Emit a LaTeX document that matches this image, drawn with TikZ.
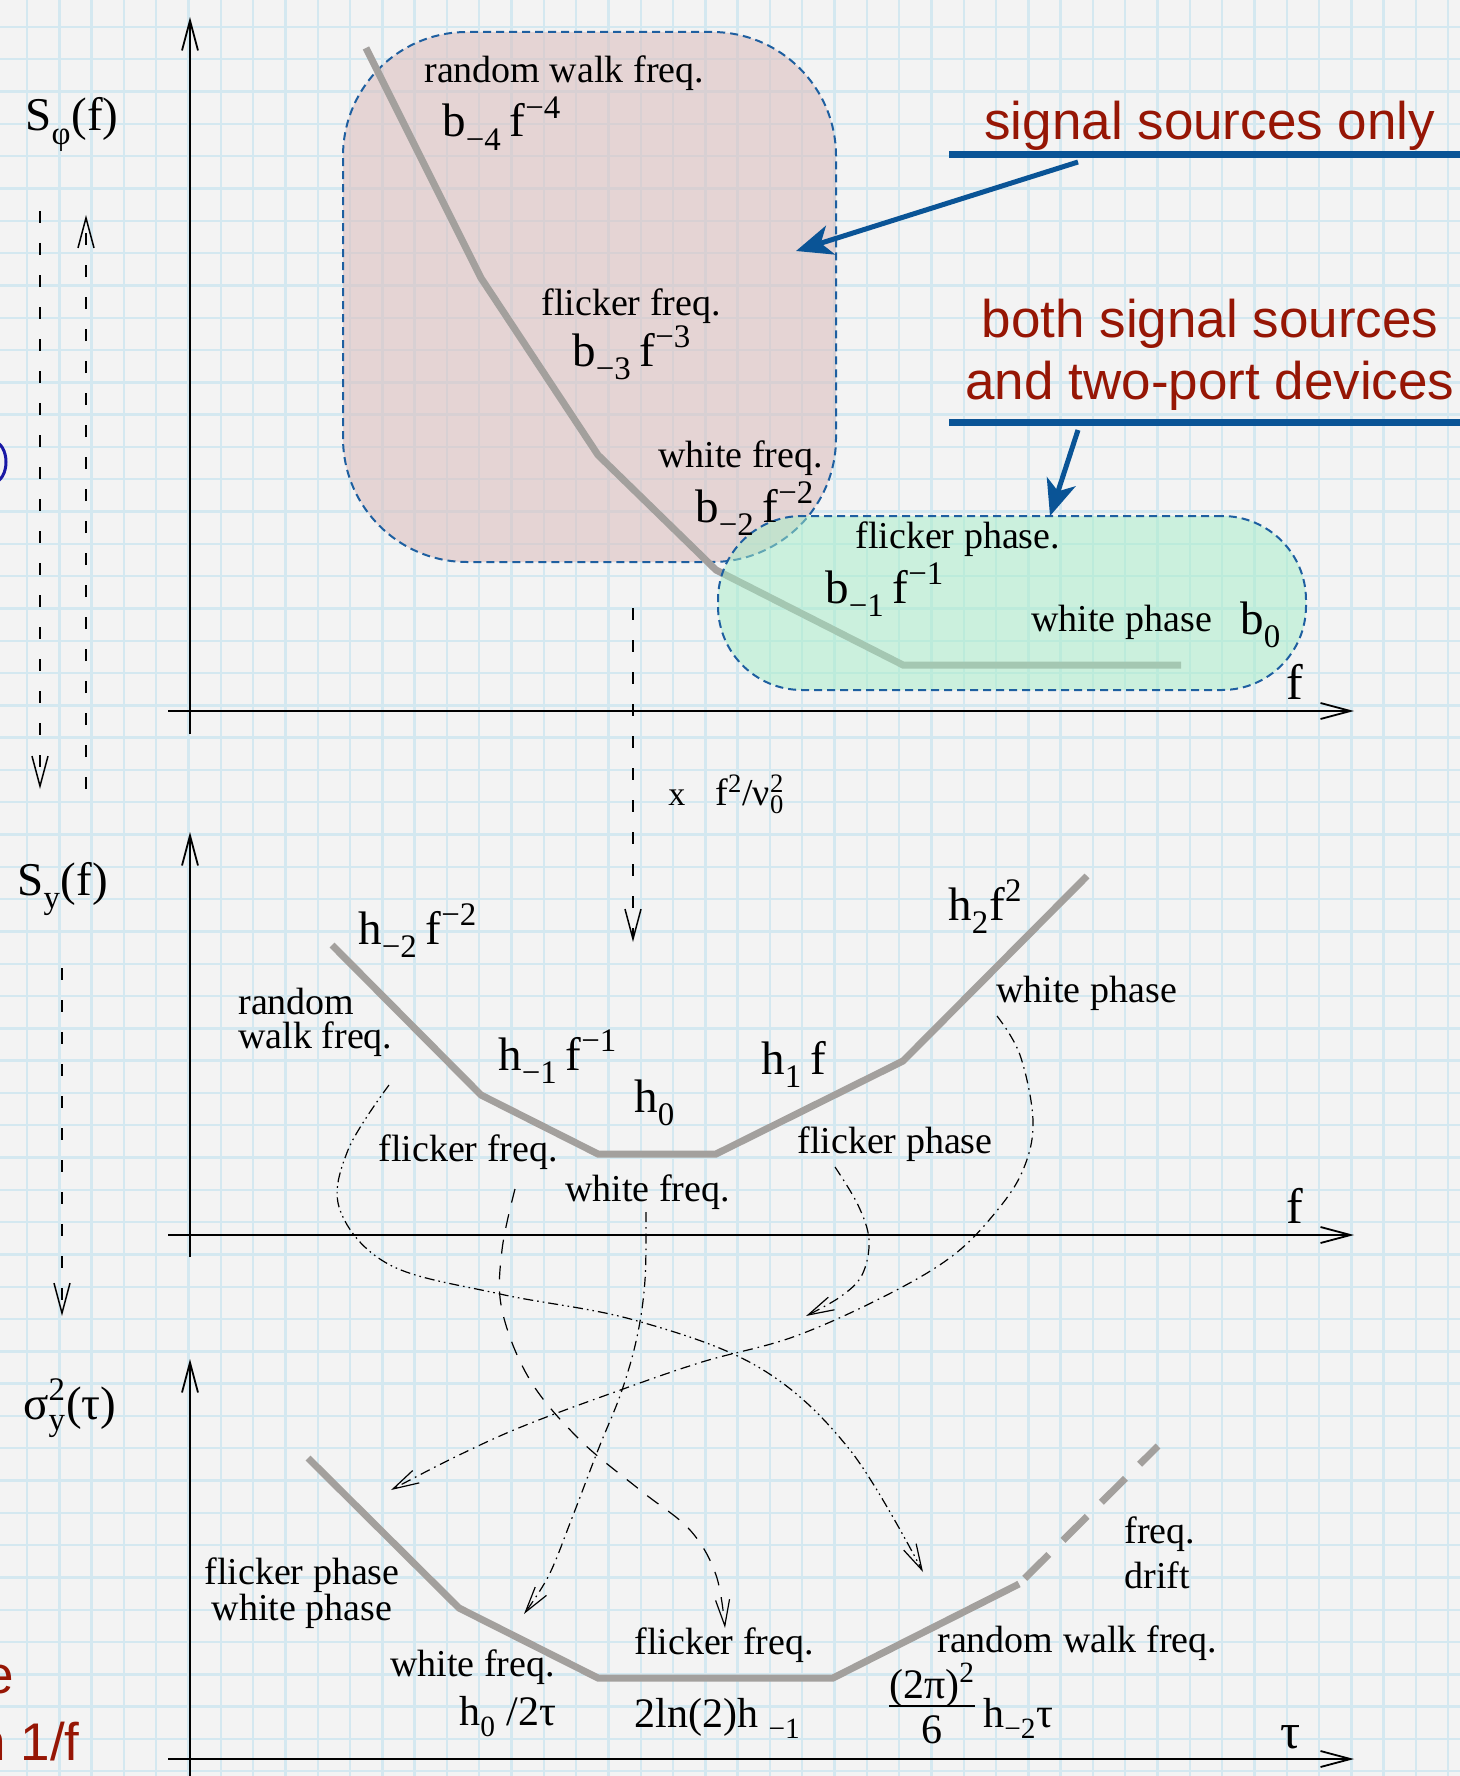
\documentclass[tikz,border=0pt]{standalone}
\usepackage{fontspec}
\setmainfont{Liberation Serif}
\newfontfamily\notefont{Liberation Sans}
\usetikzlibrary{arrows.meta}

\definecolor{paper}{RGB}{243,243,243}
\definecolor{gridblue}{RGB}{212,232,240}
\definecolor{pinkbox}{RGB}{220,192,192}
\definecolor{greenbox}{RGB}{165,238,200}
\definecolor{boxedge}{RGB}{30,95,160}
\definecolor{calloutblue}{RGB}{10,84,150}
\definecolor{notered}{RGB}{150,22,5}
\definecolor{slopegrey}{RGB}{163,160,157}
\definecolor{navyedge}{RGB}{25,25,165}

\newcommand\ssub[1]{\raisebox{-0.12em}{\textsubscript{#1}}}
\newcommand\ssup[1]{\textsuperscript{#1}}
\newcommand\supsub[2]{\rlap{\textsuperscript{#1}}\raisebox{-0.08em}{\textsubscript{#2}}}

\tikzset{
  gridline/.style={gridblue, line width=1.2pt},
  axis/.style={line width=0.9pt, -{Straight Barb[length=15pt,width=8pt]}},
  slope/.style={slopegrey, line width=3.5pt},
  lbl/.style={font=\fontsize{19}{17}\selectfont, inner sep=0pt},
  formula/.style={font=\fontsize{23.5}{25}\selectfont, inner sep=0pt},
  smallformula/.style={font=\fontsize{21}{23}\selectfont, inner sep=0pt},
  axlabel/.style={font=\fontsize{23.5}{25}\selectfont, inner sep=0pt},
  axend/.style={font=\fontsize{25}{27}\selectfont, inner sep=0pt},
  note/.style={notered, font=\notefont\fontsize{26.5}{31}\selectfont, inner sep=0pt},
  uline/.style={calloutblue, line width=3.5pt},
  callout/.style={calloutblue, line width=2.5pt, -{Stealth[length=18pt,width=15pt,inset=5pt]}},
  region/.style={draw=boxedge, line width=1pt, dash pattern=on 4pt off 2.5pt, inner sep=0pt},
  convert/.style={dash pattern=on 6pt off 10pt, line width=0.75pt, -{Straight Barb[length=15pt,width=8pt]}},
  map/.style={line width=0.6pt, -{Straight Barb[length=13pt,width=7pt]}},
  dashdotdot/.style={dash pattern=on 5pt off 2pt on 0.8pt off 2pt on 0.8pt off 2pt},
  dashdot/.style={dash pattern=on 5pt off 2.5pt on 0.8pt off 2.5pt},
  longdash/.style={dash pattern=on 7pt off 6pt},
}

\begin{document}
\begin{tikzpicture}[x=0.5pt,y=-0.5pt]
  \useasboundingbox (0,0) rectangle (1460,1776);
  \clip (0,0) rectangle (1460,1776);
  \fill[paper] (0,0) rectangle (1460,1776);
  % graph paper
  \foreach \i in {0,...,44} \draw[gridline] ({27+32.3*\i},0) -- ++(0,1776);
  \foreach \j in {0,...,54} \draw[gridline] (0,{27+32.3*\j}) -- ++(1460,0);

  % left margin fragments
  \draw[navyedge, line width=1.5pt] (-6,462) ellipse [x radius=12, y radius=20];
  \node[note, anchor=base east] (fragA) at (14,1693) {e};
  \node[note, anchor=base east] (fragB) at (80,1760) {n 1/f};

  % ---- phase noise panel
  \draw[axis] (190,734) -- (190,17);
  \draw[axis] (168,711) -- (1354,711);
  \node[axlabel, anchor=base west] (sphi) at (25,131) {S\ssub{φ}(f)};
  \node[axend, anchor=base west] (fphi) at (1286,699) {f};

  \node[region, fill=pinkbox, fill opacity=0.6, minimum width=246.5pt,
        minimum height=265pt, rounded corners=62pt] (slow) at (589.5,297) {};
  \coordinate (b4) at (366,48);
  \coordinate (b3) at (481,278);
  \coordinate (b2) at (598,455);
  \coordinate (b1) at (716,570);
  \coordinate (b0) at (903,665);
  \coordinate (bend) at (1181,665);
  \draw[slope] (b4) -- (b3) -- (b2) -- (b1) -- (b0) -- (bend);
  \node[region, fill=greenbox, fill opacity=0.5, minimum width=294pt,
        minimum height=87pt, rounded corners=42pt] (fast) at (1012,603) {};

  \node[lbl, anchor=base west] (rwphi) at (424,83) {random walk freq.};
  \node[formula, anchor=base west] (bm4) at (442,137) {b\ssub{−4}\,f\ssup{−4}};
  \node[lbl, anchor=base west] (ffphi) at (541,315) {flicker freq.};
  \node[formula, anchor=base west] (bm3) at (572,366) {b\ssub{−3}\,f\ssup{−3}};
  \node[lbl, anchor=base west] (wfphi) at (658,467) {white freq.};
  \node[formula, anchor=base west] (bm2) at (695,522) {b\ssub{−2}\,f\ssup{−2}};
  \node[lbl, anchor=base west] (fpphi) at (855,548) {flicker phase.};
  \node[formula, anchor=base west] (bm1) at (825,603) {b\ssub{−1}\,f\ssup{−1}};
  \node[lbl, anchor=base west] (wpphi) at (1031,631) {white phase};
  \node[formula, anchor=base west] (bz) at (1240,634) {b\ssub{0}};

  % callouts
  \node[note, anchor=base west] (only) at (984,140) {signal sources only};
  \draw[uline] (949,155) -- (1470,155);
  \coordinate (onlyfoot) at (1078,162);
  \coordinate (slowhit) at (796,251);
  \draw[callout] (onlyfoot) -- (slowhit);
  \node[note, align=center] (both) at (1210,355) {both signal sources\\and two-port devices};
  \draw[uline] (949,422) -- (1470,422);
  \coordinate (bothfoot) at (1078,430);
  \coordinate (fasthit) at (1050,516);
  \draw[callout] (bothfoot) -- (fasthit);

  % conversions
  \coordinate (downA) at (40,211);
  \coordinate (downAend) at (40,789);
  \coordinate (upA) at (86,789);
  \coordinate (upAend) at (86,215);
  \coordinate (downB) at (62,968);
  \coordinate (downBend) at (62,1316);
  \coordinate (conv) at (633,608);
  \coordinate (convend) at (633,942);
  \draw[convert] (downA) -- (downAend);
  \draw[convert] (upA) -- (upAend);
  \draw[convert] (downB) -- (downBend);
  \draw[convert] (conv) -- (convend);
  \node[font=\fontsize{17}{19}\selectfont, inner sep=0pt, anchor=base west] (times) at (668,805) {x};
  \node[font=\fontsize{19}{21}\selectfont, inner sep=0pt, anchor=base west] (factor) at (715,805) {f\ssup{2}/ν\supsub{2}{0}};

  % ---- frequency noise panel
  \draw[axis] (190,1257) -- (190,832);
  \draw[axis] (168,1235) -- (1354,1235);
  \node[axlabel, anchor=base west] (sy) at (17,895) {S\ssub{y}(f)};
  \node[axend, anchor=base west] (fy) at (1286,1223) {f};

  \coordinate (h2l) at (332,945);
  \coordinate (h1l) at (481,1095);
  \coordinate (h0l) at (598,1154);
  \coordinate (h0r) at (716,1154);
  \coordinate (h1r) at (903,1061);
  \coordinate (h2r) at (1087,876);
  \draw[slope] (h2l) -- (h1l) -- (h0l) -- (h0r) -- (h1r) -- (h2r);

  \node[formula, anchor=base west] (hm2) at (358,944) {h\ssub{−2}\,f\ssup{−2}};
  \node[lbl, align=left, anchor=west] (rwy) at (238,1022) {random\\walk freq.};
  \node[formula, anchor=base west] (hm1) at (498,1070) {h\ssub{−1}\,f\ssup{−1}};
  \node[formula, anchor=base west] (hz) at (634,1112) {h\ssub{0}};
  \node[formula, anchor=base west] (hp1) at (761,1074) {h\ssub{1}\,f};
  \node[formula, anchor=base west] (hp2) at (948,920) {h\ssub{2}f\ssup{2}};
  \node[lbl, anchor=base west] (wpy) at (996,1002) {white phase};
  \node[lbl, anchor=base west] (ffy) at (378,1161) {flicker freq.};
  \node[lbl, anchor=base west] (wfy) at (565,1201) {white freq.};
  \node[lbl, anchor=base west] (fpy) at (797,1153) {flicker phase};

  % ---- Allan variance panel
  \draw[axis] (190,1776) -- (190,1359);
  \draw[axis] (168,1759) -- (1354,1759);
  \node[axlabel, anchor=base west] (sig) at (23,1419) {σ\supsub{2}{y}(τ)};
  \node[axend, anchor=base west] (tau) at (1280,1748) {τ};

  \coordinate (s1) at (308,1458);
  \coordinate (s2) at (459,1608);
  \coordinate (s3) at (598,1678);
  \coordinate (s4) at (833,1678);
  \coordinate (s5) at (1019,1584);
  \coordinate (s6) at (1158,1446);
  \draw[slope] (s1) -- (s2) -- (s3) -- (s4) -- (s5);
  \draw[slope, dash pattern=on 17pt off 10pt, dash phase=-4pt] (s5) -- (s6);

  \node[lbl, align=center] (phsig) at (302,1593) {flicker phase\\white phase};
  \node[lbl, anchor=base west] (wfsig) at (390,1676) {white freq.};
  \node[smallformula, anchor=base west] (wfval) at (459,1725) {h\ssub{0} /2τ};
  \node[lbl, anchor=base west] (ffsig) at (634,1654) {flicker freq.};
  \node[smallformula, anchor=base west] (ffval) at (634,1727) {2ln(2)h \ssub{−1}};
  \node[lbl, anchor=base west] (rwsig) at (937,1652) {random walk freq.};
  \node[smallformula, anchor=base] (rwnum) at (932,1698) {(2π)\ssup{2}};
  \draw[line width=0.8pt] (889,1706) -- (975,1706);
  \node[smallformula, anchor=base] (rwden) at (932,1743) {6};
  \node[smallformula, anchor=base west] (rwval) at (983,1727) {h\ssub{−2}τ};
  \node[font=\fontsize{19}{22.5}\selectfont, inner sep=0pt, align=left, anchor=west] (drift) at (1124,1553) {freq.\\drift};

  % ---- spectrum to variance mapping
  \coordinate (rwout) at (389,1085);
  \coordinate (rwin) at (923,1572);
  \coordinate (wpout) at (997,1016);
  \coordinate (wpin) at (391,1490);
  \coordinate (fpout) at (835,1167);
  \coordinate (fpin) at (806,1316);
  \coordinate (ffout) at (515,1189);
  \coordinate (ffin) at (725,1628);
  \coordinate (wfout) at (646,1212);
  \coordinate (wfin) at (524,1614);
  \draw[map, dashdotdot] plot[smooth, tension=0.6] coordinates
    {(rwout) (348,1150) (340,1210) (390,1265) (500,1294) (634,1320) (760,1368) (850,1450) (rwin)};
  \draw[map, dashdot] plot[smooth, tension=0.6] coordinates
    {(wpout) (1020,1055) (1033,1121) (1023,1170) (995,1213) (951,1257) (883,1297) (793,1337) (702,1362) (612,1393) (521,1427) (453,1458) (wpin)};
  \draw[map, dashdot] plot[smooth, tension=0.6] coordinates
    {(fpout) (858,1205) (869,1240) (862,1275) (840,1297) (fpin)};
  \draw[map, longdash] plot[smooth, tension=0.6] coordinates
    {(ffout) (502,1250) (502,1310) (530,1380) (580,1440) (640,1490) (690,1530) (716,1575) (ffin)};
  \draw[map, dashdot] plot[smooth, tension=0.6] coordinates
    {(wfout) (645,1280) (637,1337) (621,1393) (598,1450) (572,1518) (549,1575) (wfin)};
\end{tikzpicture}
\end{document}
